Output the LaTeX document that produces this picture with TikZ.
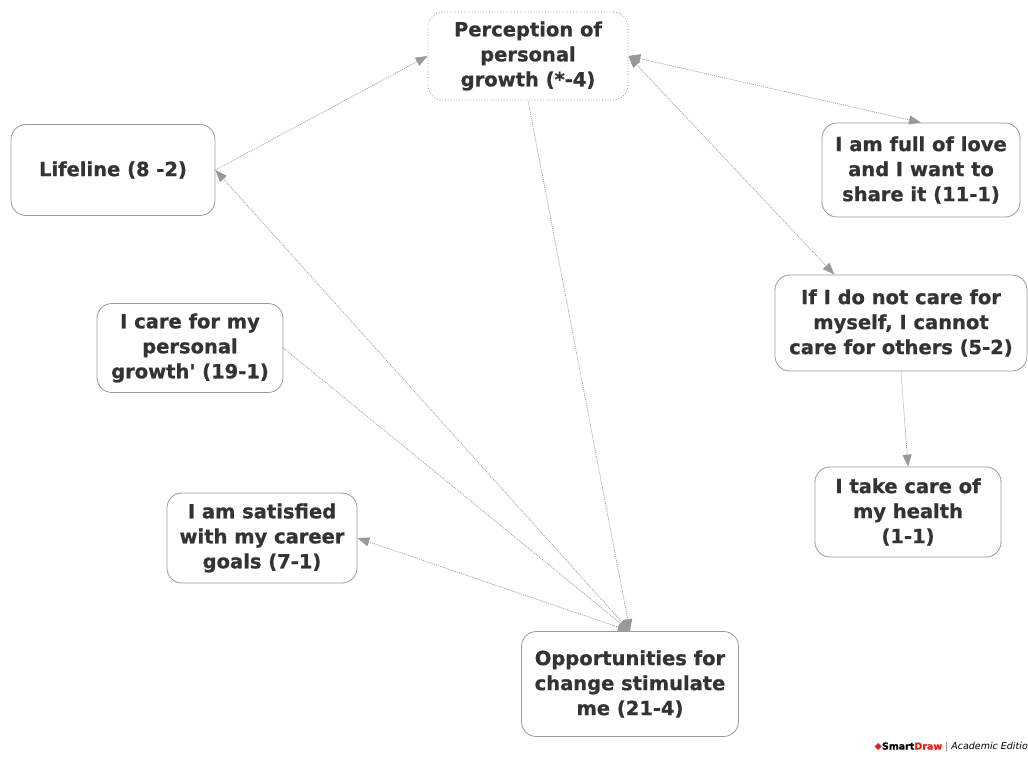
\documentclass[tikz,border=0pt]{standalone}
\usepackage{fontspec}
\setmainfont{DejaVu Sans}[Ligatures=TeXOff, BoldFeatures={FakeBold=0.8}]
\definecolor{txt}{HTML}{333333}
\definecolor{edgegray}{HTML}{999999}
\definecolor{sdred}{HTML}{E0201B}
\usetikzlibrary{arrows.meta,positioning}
\tikzset{
  concept/.style={rectangle, draw=edgegray, line width=0.8pt, rounded corners=15pt, text=txt, font=\fontsize{19.5}{25}\selectfont\bfseries, align=center, inner sep=0pt},
  conceptd/.style={concept, dotted},
  line/.style={draw=edgegray, line width=0.7pt, dash pattern=on 1pt off 1pt, -{Triangle[length=12pt,width=9pt]}},
  dline/.style={{Triangle[length=12pt,width=9pt]}-{Triangle[length=12pt,width=9pt]}},
}
\begin{document}
\begin{tikzpicture}[x=1pt,y=-1pt]
    \useasboundingbox (0,0) rectangle (1028,756);

    \node[conceptd, minimum width=200pt, minimum height=88pt] (perc) at (528,56) {Perception of\\personal\\growth (*-4)};
    \node[concept, minimum width=204pt, minimum height=91pt] (life) at (113,170) {Lifeline (8 -2)};
    \node[concept, minimum width=198pt, minimum height=94pt] (love) at (921,170) {I am full of love\\and I want to\\share it (11-1)};
    \node[concept, minimum width=252pt, minimum height=96pt] (ifi) at (901,323) {If I do not care for\\myself, I cannot\\care for others (5-2)};
    \node[concept, minimum width=186pt, minimum height=89pt] (icare) at (190,348) {I care for my\\personal\\growth' (19-1)};
    \node[concept, minimum width=186pt, minimum height=90pt] (itake) at (908,512) {I take care of\\my health\\(1-1)};
    \node[concept, minimum width=190pt, minimum height=90pt] (sat) at (262,538) {I am satisfied\\with my career\\goals (7-1)};
    \node[concept, minimum width=217pt, minimum height=105pt] (opp) at (630,684) {Opportunities for\\change stimulate\\me (21-4)};

    \node[anchor=east, inner sep=0pt, font=\fontsize{9.5}{10}\selectfont] (mark) at (1028,747) {\textcolor{sdred}{◆}\textbf{Smart\textcolor{sdred}{Draw}} \textcolor{gray}{|} \textit{Academic Editio}};

    \begin{scope} [every path/.style=line]
      \path (life.east) -- (perc.west);
      \path (perc.south) -- (opp.north);
      \path[dline] (perc.east) -- (love.north);
      \path[dline] (perc.east) -- (ifi.144);
      \path[dline] (opp.north) -- (life.east);
      \path (icare.east) -- (opp.north);
      \path[dline] (opp.north) -- (sat.east);
      \path (ifi.south) -- (itake.north);
    \end{scope}
\end{tikzpicture}
\end{document}
